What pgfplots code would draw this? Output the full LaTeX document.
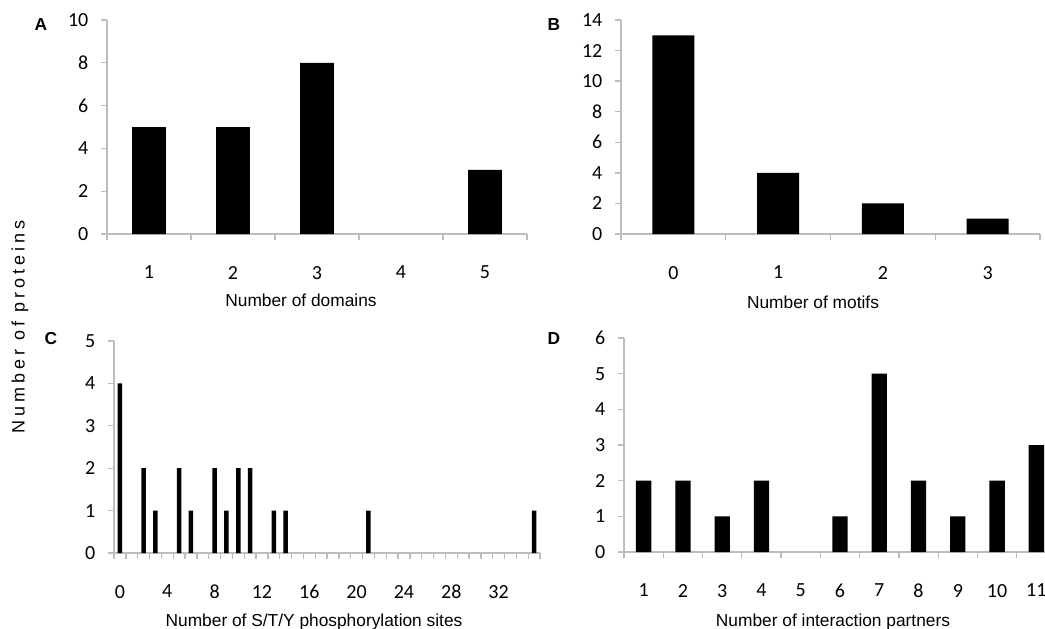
\documentclass[border=0pt]{standalone}
\usepackage{pgfplots}
\pgfplotsset{compat=1.18}
\usepackage{fontspec}
\setmainfont{Liberation Sans}
\newfontfamily\tickfont{Carlito}
\definecolor{axisgray}{HTML}{BDBDBD}

\pgfplotsset{
  panel/.style={
    scale only axis, anchor=south west,
    axis x line*=bottom, axis y line*=left,
    axis line style={-, draw=axisgray, line width=1.2pt},
    tick align=outside,
    major tick length=4.5pt, minor tick length=4.5pt,
    every tick/.style={draw=axisgray, line width=1pt},
    major x tick style={draw=none},
    ybar, bar width=0.4,
    ymin=0,
    /pgf/number format/assume math mode=true,
    tick label style={font=\tickfont\fontsize{15}{18}\selectfont, text=black},
    yticklabel style={xshift=-6pt},
    xticklabel style={yshift=-16pt},
  },
  blackbar/.style={fill=black, draw=none},
}

\begin{document}
\begin{tikzpicture}[x=0.75pt, y=-0.75pt]
\useasboundingbox (0,0) rectangle (1045,628);

% A
\begin{axis}[panel, at={(107*0.75pt,-234*0.75pt)}, width=420*0.75pt, height=214*0.75pt,
  xmin=0.5, xmax=5.5, ymax=10, ytick={0,2,...,10},
  xtick={1,...,5}, minor xtick={0.5,1.5,...,5.5}]
\addplot[blackbar] coordinates {(1,5) (2,5) (3,8) (5,3)};
\end{axis}

% B
\begin{axis}[panel, at={(621*0.75pt,-234*0.75pt)}, width=419*0.75pt, height=214*0.75pt,
  xmin=-0.5, xmax=3.5, ymax=14, ytick={0,2,...,14},
  xtick={0,...,3}, minor xtick={-0.5,0.5,...,3.5}]
\addplot[blackbar] coordinates {(0,13) (1,4) (2,2) (3,1)};
\end{axis}

% C
\begin{axis}[panel, at={(114*0.75pt,-553*0.75pt)}, width=426*0.75pt, height=212*0.75pt,
  xmin=-0.5, xmax=35.5, ymax=5, ytick={0,...,5}, bar width=0.38,
  xtick={0,4,...,32}, minor xtick={-0.5,0.5,...,35.5}]
\addplot[blackbar] coordinates {
  (0,4) (2,2) (3,1) (5,2) (6,1) (8,2) (9,1) (10,2) (11,2)
  (13,1) (14,1) (21,1) (35,1)};
\end{axis}

% D
\begin{axis}[panel, at={(624*0.75pt,-552*0.75pt)}, width=432*0.75pt, height=214*0.75pt,
  xmin=0.5, xmax=11.5, ymax=6, ytick={0,...,6}, bar width=0.39,
  xtick={1,...,11}, minor xtick={0.5,1.5,...,11.5}]
\addplot[blackbar] coordinates {
  (1,2) (2,2) (3,1) (4,2) (6,1) (7,5) (8,2) (9,1) (10,2) (11,3)};
\end{axis}

% titles and labels
\begin{scope}[every node/.style={font=\fontsize{13}{15}\selectfont, inner sep=0pt}]
\node[anchor=base] at (301,306) {Number of domains};
\node[anchor=base] at (813,308) {Number of motifs};
\node[anchor=base] at (314,626) {Number of S/T/Y phosphorylation sites};
\node[anchor=base] at (833,626) {Number of interaction partners};
\end{scope}
\node[rotate=90, inner sep=0pt, font=\addfontfeature{LetterSpace=22}\fontsize{13.5}{16}\selectfont] at (20,327) {Number of proteins};

\begin{scope}[every node/.style={font=\bfseries\fontsize{13}{15}\selectfont, inner sep=0pt, anchor=base}]
\node at (41,31) {A};
\node at (554,31) {B};
\node at (51,344) {C};
\node at (554,344) {D};
\end{scope}
\end{tikzpicture}
\end{document}
